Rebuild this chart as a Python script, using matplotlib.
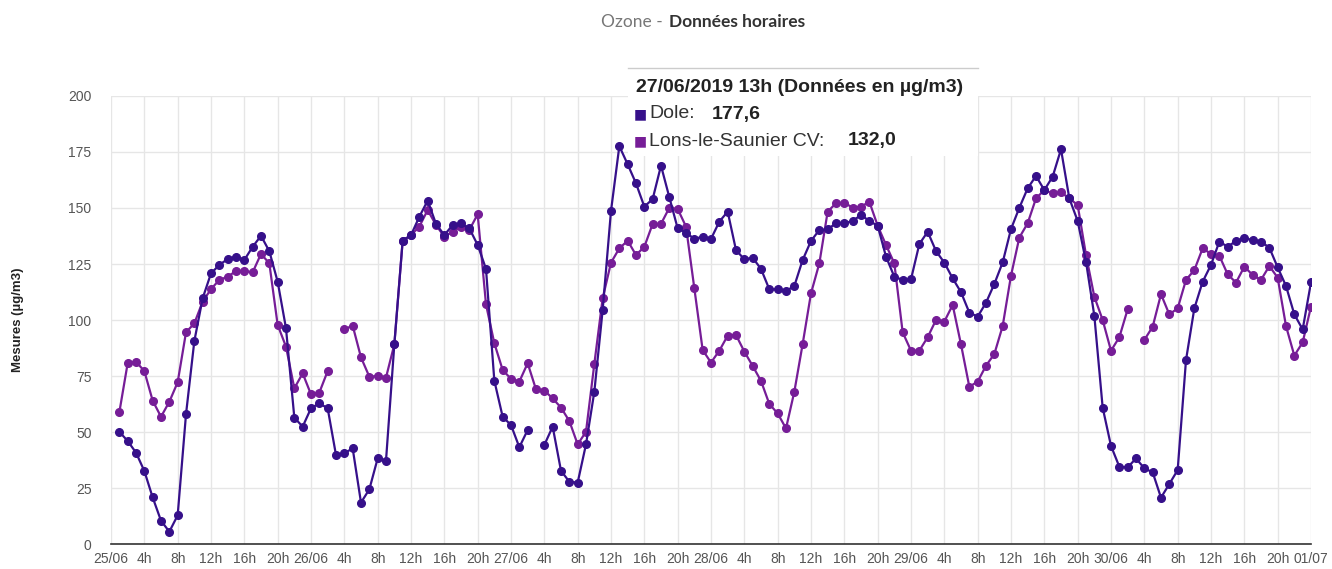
import numpy as np
import matplotlib
matplotlib.use("Agg")
import matplotlib.pyplot as plt
from matplotlib.patches import Rectangle

nan = np.nan

# hours since 25/06 0h (one point per hour, 1h .. 01/07 0h)
hours = np.arange(1, 145)

dole = [
    50.1, 46.0, 40.8, 32.6, 20.8, 10.4, 5.5, 12.8, 57.9, 90.6, 109.7, 120.8,
    124.6, 127.2, 128.3, 126.8, 132.7, 137.6, 130.7, 117.1, 96.3, 56.4, 52.4, 60.6,
    62.8, 60.6, 39.7, 40.5, 42.7, 18.5, 24.4, 38.2, 37.2, 89.1, 135.4, 137.9,
    146.1, 153.3, 142.9, 137.9, 142.4, 143.2, 140.9, 133.5, 122.8, 72.9, 56.8, 53.1,
    43.2, 50.9, nan, 44.2, 52.4, 32.7, 27.8, 27.4, 44.5, 68.0, 104.5, 148.7,
    177.6, 169.5, 161.0, 150.6, 154.0, 168.9, 154.8, 140.9, 139.0, 136.2, 137.2, 136.2,
    143.9, 148.4, 131.2, 127.1, 127.8, 122.8, 113.7, 113.7, 112.9, 115.2, 126.8, 135.3,
    140.2, 140.5, 143.2, 143.2, 144.2, 146.9, 144.2, 142.1, 128.3, 119.3, 117.9, 118.2,
    133.9, 139.4, 130.8, 125.6, 118.6, 112.4, 103.3, 101.5, 107.7, 116.1, 125.7, 140.6,
    150.1, 158.8, 164.3, 158.0, 164.0, 176.2, 154.3, 144.2, 126.0, 101.9, 60.9, 43.8,
    34.5, 34.2, 38.2, 33.8, 32.0, 20.7, 26.8, 33.0, 82.1, 105.2, 117.1, 124.6,
    135.0, 132.7, 135.3, 136.5, 135.7, 135.0, 132.3, 123.5, 115.2, 102.5, 95.8, 116.8,
]

lons = [
    58.8, 80.7, 81.4, 77.2, 64.0, 56.8, 63.5, 72.2, 94.5, 98.5, 108.2, 113.8,
    117.9, 119.3, 121.9, 121.9, 121.3, 129.5, 125.3, 97.8, 88.1, 69.5, 76.2, 66.8,
    67.6, 77.2, nan, 95.8, 97.5, 83.3, 74.7, 75.0, 74.3, 89.1, 135.4, 137.9,
    141.7, 149.1, 142.4, 137.2, 139.4, 141.7, 140.2, 147.2, 107.0, 89.6, 77.7, 73.7,
    72.5, 80.7, 69.0, 68.5, 65.0, 60.9, 54.9, 44.5, 50.1, 80.4, 109.7, 125.6,
    132.0, 135.4, 129.0, 132.7, 142.9, 142.9, 150.1, 149.6, 141.7, 114.1, 86.6, 81.0,
    86.3, 93.0, 93.3, 85.9, 79.5, 72.8, 62.5, 58.3, 51.6, 68.0, 89.3, 111.9,
    125.3, 148.4, 152.1, 152.4, 150.1, 150.6, 152.8, 142.1, 133.5, 125.3, 94.5, 86.3,
    86.3, 92.3, 100.0, 99.3, 106.7, 89.1, 70.2, 72.5, 79.6, 84.8, 97.3, 119.8,
    136.8, 143.2, 154.3, 158.0, 156.5, 157.0, 154.3, 151.3, 129.0, 110.4, 100.0, 86.3,
    92.3, 104.8, nan, 91.1, 97.0, 111.5, 102.5, 105.2, 117.9, 122.3, 132.0, 129.5,
    128.7, 120.4, 116.7, 123.8, 120.1, 117.9, 124.1, 118.9, 97.3, 84.1, 90.0, 106.0,
]

days = ["25/06", "26/06", "27/06", "28/06", "29/06", "30/06", "01/07"]
tick_pos = np.arange(0, 145, 4)
tick_labels = []
for t in tick_pos:
    if t % 24 == 0:
        tick_labels.append(days[t // 24])
    else:
        tick_labels.append("%dh" % (t % 24))

c_dole = "#36108a"
c_lons = "#761d97"

fig = plt.figure(figsize=(13.32, 5.69), dpi=100)
ax = fig.add_axes([111 / 1332, 1 - 544 / 569, 1200 / 1332, 448 / 569])

ax.plot(hours, lons, color=c_lons, lw=1.6, marker="o", ms=5.5, zorder=3)
ax.plot(hours, dole, color=c_dole, lw=1.6, marker="o", ms=5.5, zorder=4)

ax.set_xlim(0, 144)
ax.set_ylim(0, 200)
ax.set_xticks(tick_pos)
ax.set_xticklabels(tick_labels)
ax.set_yticks(np.arange(0, 201, 25))
ax.grid(True, color="#e6e6e6", lw=1)
ax.set_axisbelow(True)
for s in ["top", "right", "left"]:
    ax.spines[s].set_visible(False)
ax.spines["bottom"].set_color("#333333")
ax.spines["bottom"].set_linewidth(1.2)
ax.tick_params(axis="both", length=0, labelsize=10, colors="#555555",
               labelfontfamily="Liberation Sans")
ax.tick_params(axis="x", pad=6)
ax.tick_params(axis="y", pad=14)
ax.set_ylabel("Mesures (µg/m3)", fontsize=9.5, fontweight="bold",
              family="Liberation Sans", color="#222222", labelpad=32)

# title
fig.text(667 / 1332, 1 - 22 / 569, "Ozone - ", ha="right", va="center",
         fontsize=12.5, color="#777777", family="Lato")
fig.text(669 / 1332, 1 - 22 / 569, "Données horaires", ha="left", va="center",
         fontsize=12.5, color="#333333", family="Lato", fontweight="bold")

# tooltip
fig.add_artist(Rectangle((628 / 1332, 1 - 156 / 569), 350 / 1332, 88 / 569,
                         transform=fig.transFigure, facecolor="white",
                         edgecolor="none", zorder=10))
fig.add_artist(plt.Line2D([628 / 1332, 978 / 1332], [1 - 68 / 569, 1 - 68 / 569],
                          transform=fig.transFigure, color="#cccccc", lw=1, zorder=11))
fs = 14
fig.text(636 / 1332, 1 - 88 / 569, "27/06/2019 13h (Données en µg/m3)",
         ha="left", va="center", fontsize=fs, fontweight="bold",
         family="Liberation Sans", color="#222222", zorder=12)
fig.text(634 / 1332, 1 - 114 / 569, "■", ha="left", va="center", fontsize=10,
         color=c_dole, family="DejaVu Sans", zorder=12)
fig.text(649 / 1332, 1 - 114 / 569, "Dole:", ha="left", va="center", fontsize=fs,
         family="Liberation Sans", color="#333333", zorder=12)
fig.text(712 / 1332, 1 - 114 / 569, "177,6", ha="left", va="center", fontsize=fs,
         fontweight="bold", family="Liberation Sans", color="#222222", zorder=12)
fig.text(634 / 1332, 1 - 141 / 569, "■", ha="left", va="center", fontsize=10,
         color=c_lons, family="DejaVu Sans", zorder=12)
fig.text(649 / 1332, 1 - 141 / 569, "Lons-le-Saunier CV:", ha="left", va="center",
         fontsize=fs, family="Liberation Sans", color="#333333", zorder=12)
fig.text(848 / 1332, 1 - 141 / 569, "132,0", ha="left", va="center", fontsize=fs,
         fontweight="bold", family="Liberation Sans", color="#222222", zorder=12)

fig.savefig("out.png", dpi=100)
